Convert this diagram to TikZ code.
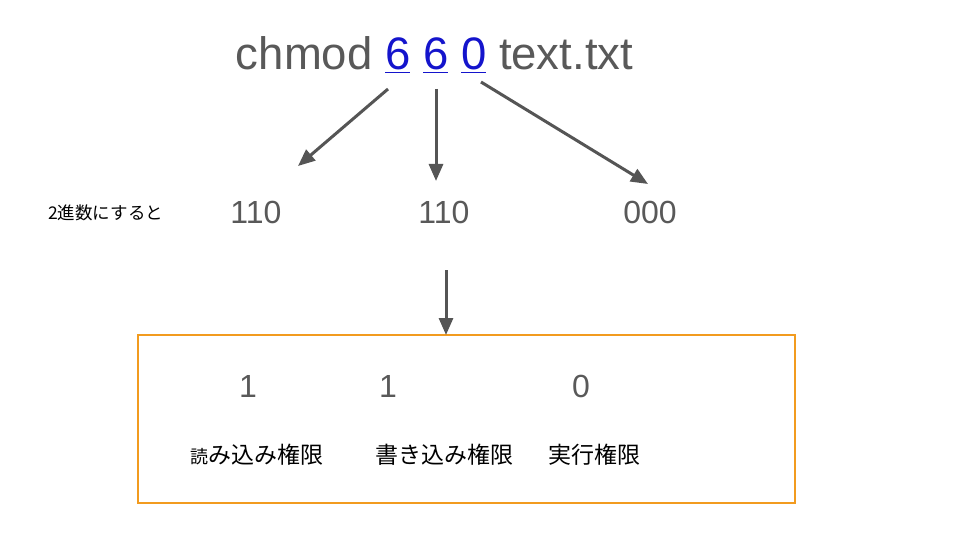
\documentclass[tikz,border=0pt]{standalone}
\usepackage{fontspec}
\setmainfont{Liberation Sans}
\newfontfamily\cjk{Noto Sans CJK JP}
\usetikzlibrary{arrows.meta}
\definecolor{txtgray}{HTML}{595959}
\definecolor{arrgray}{HTML}{555555}
\definecolor{linkblue}{HTML}{1414CC}
\definecolor{boxorange}{HTML}{F29B1F}
\newcommand{\lnk}[1]{\textcolor{linkblue}{\underline{#1}}}
\tikzset{
  arr/.style={draw=arrgray, line width=3pt, -{Triangle[length=17pt,width=14pt]}},
  bin/.style={text=txtgray, font=\fontsize{32}{32}\selectfont, anchor=base, inner sep=0pt},
  jp/.style={text=black, font=\cjk\fontsize{23}{23}\selectfont, anchor=base, inner sep=0pt},
}
\begin{document}
\begin{tikzpicture}[x=1pt,y=-1pt]
\useasboundingbox[fill=white] (0,0) rectangle (960,540);
\node[text=txtgray, font=\fontsize{45.5}{45.5}\selectfont, anchor=base, inner sep=0pt] (title) at (434.5,70) {chmod \lnk{6} \lnk{6} \lnk{0} text.txt};
\coordinate (s1) at (388,89);
\coordinate (s2) at (436,89);
\coordinate (s3) at (481,82);
\coordinate (t1) at (298,166);
\coordinate (t2) at (436,181);
\coordinate (t3) at (648,184);
\draw[arr] (s1) -- (t1);
\draw[arr] (s2) -- (t2);
\draw[arr] (s3) -- (t3);
\node[text=black, font=\cjk\fontsize{17.5}{17.5}\selectfont, anchor=base west, inner sep=0pt] (lbl) at (48,219) {2進数にすると};
\node[bin] (b1) at (256,223) {110};
\node[bin] (b2) at (444,223) {110};
\node[bin] (b3) at (650,223) {000};
\coordinate (s4) at (446,270);
\draw[boxorange, line width=2pt] (138,335) rectangle (795,503);
\coordinate (t4) at (446,335);
\draw[arr] (s4) -- (t4);
\node[bin] (d1) at (248,397) {1};
\node[bin] (d2) at (388,397) {1};
\node[bin] (d3) at (581,397) {0};
\node[jp] (p1) at (256.5,463) {{\fontsize{18}{18}\selectfont 読}み込み権限};
\node[jp] (p2) at (444,463) {書き込み権限};
\node[jp] (p3) at (594,463) {実行権限};
\end{tikzpicture}
\end{document}
